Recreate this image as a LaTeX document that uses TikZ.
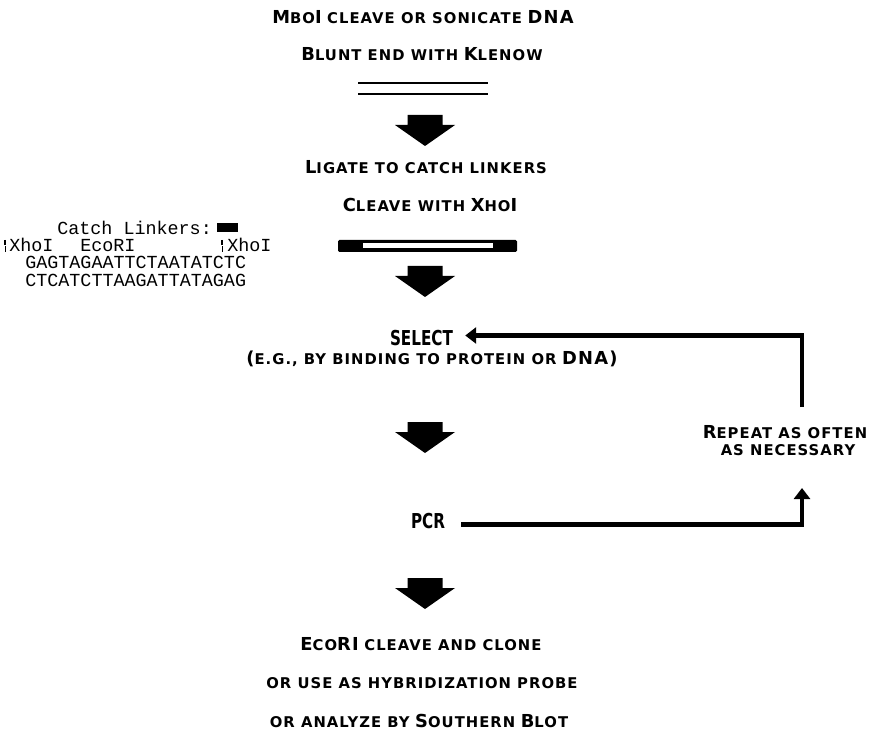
\documentclass[tikz,border=0pt]{standalone}
\usepackage{fontspec}
\usetikzlibrary{arrows.meta}
\newfontfamily\labfont[LetterSpace=7]{DejaVu Sans}
\newfontfamily\tallfont[FakeStretch=0.74]{DejaVu Sans}
\newfontfamily\seqfont{Liberation Mono}
% hand-made small capitals: large and small upper-case letters
\newcommand\capL[1]{{\fontsize{13.4}{15}\selectfont #1}}
\newcommand\capS[1]{{\fontsize{11.1}{13}\selectfont #1}}

\tikzset{
  lab/.style={font=\labfont\bfseries, anchor=base, inner sep=0pt},
  tall/.style={font=\tallfont\bfseries\fontsize{15.4}{17}\selectfont, anchor=base, inner sep=0pt},
  seq/.style={font=\seqfont\fontsize{13.8}{16}\selectfont, anchor=base west, inner sep=0pt},
  loopline/.style={line width=3.6pt, line join=miter, -{Triangle[length=8.25pt,width=12pt]}},
  cutmark/.style={line width=0.8pt},
  blockarrow/.pic={
    \fill (-17.5,0) -- (17.5,0) -- (17.5,10) -- (30,10) -- (0,31)
          -- (-30,10) -- (-17.5,10) -- cycle;
  },
}

\begin{document}
\begin{tikzpicture}[x=0.75pt,y=-0.75pt]
\useasboundingbox (0,0) rectangle (877,730);

% --- fragmenting the DNA
\node[lab] (mbo) at (423,24) {\capL{M}\capS{BO}\capL{I} \capS{CLEAVE OR SONICATE} \capL{DNA}};
\node[lab] (blunt) at (422,61) {\capL{B}\capS{LUNT END WITH} \capL{K}\capS{LENOW}};
\draw[line width=1.6pt] (358,83) -- (488,83) (358,94) -- (488,94);
\pic at (425,115) {blockarrow};

% --- linker ligation
\node[lab] (ligate) at (426,174) {\capL{L}\capS{IGATE TO CATCH LINKERS}};
\node[lab] (cleave) at (430,212) {\capL{C}\capS{LEAVE WITH} \capL{X}\capS{HO}\capL{I}};
\fill[rounded corners=1pt] (338,240) rectangle (517,252);
\fill[white] (363,243.5) rectangle (493,248.5);
\pic at (425,266) {blockarrow};

% --- catch linker sequence
\node[seq] (catch) at (57,235) {Catch Linkers:};
\fill (217,223) rectangle (238,232);
\node[seq] (xhoA) at (9,252) {XhoI};
\node[seq] (eco) at (80,252) {EcoRI};
\node[seq] (xhoB) at (227,252) {XhoI};
\draw[cutmark] (5,240) -- (5,245) (5.8,246.5) -- (5.8,252);
\draw[cutmark] (222,240) -- (222,245) (222.8,246.5) -- (222.8,252);
\node[seq] (upper) at (25,269) {GAGTAGAATTCTAATATCTC};
\node[seq] (lower) at (25,287) {CTCATCTTAAGATTATAGAG};

% --- selection cycle
\node[tall] (select) at (421.5,345.5) {SELECT};
\node[lab] (eg) at (432,364) {\capL{(}\capS{E.G., BY BINDING TO PROTEIN OR} \capL{DNA)}};
\pic at (425,422) {blockarrow};
\node[lab] (repA) at (785,438) {\capL{R}\capS{EPEAT AS OFTEN}};
\node[lab] (repB) at (788,455) {\capS{AS NECESSARY}};
\node[tall] (pcr) at (428,528) {PCR};

\coordinate (pcrrow) at (0,524.5);
\coordinate (selrow) at (0,335.5);
\coordinate (repin) at (802,488);
\coordinate (repout) at (802,407);
\draw[loopline, shorten <=12pt] (pcr.east |- pcrrow) -| (repin);
\draw[loopline, shorten >=9pt] (repout) |- (select.east |- selrow);

\pic at (425,578) {blockarrow};

% --- final uses
\node[lab] (clone) at (421,650) {\capL{E}\capS{CO}\capL{RI} \capS{CLEAVE AND CLONE}};
\node[lab] (probe) at (422,688) {\capS{OR USE AS HYBRIDIZATION PROBE}};
\node[lab] (blot) at (419,727) {\capS{OR ANALYZE BY} \capL{S}\capS{OUTHERN} \capL{B}\capS{LOT}};
\end{tikzpicture}
\end{document}
